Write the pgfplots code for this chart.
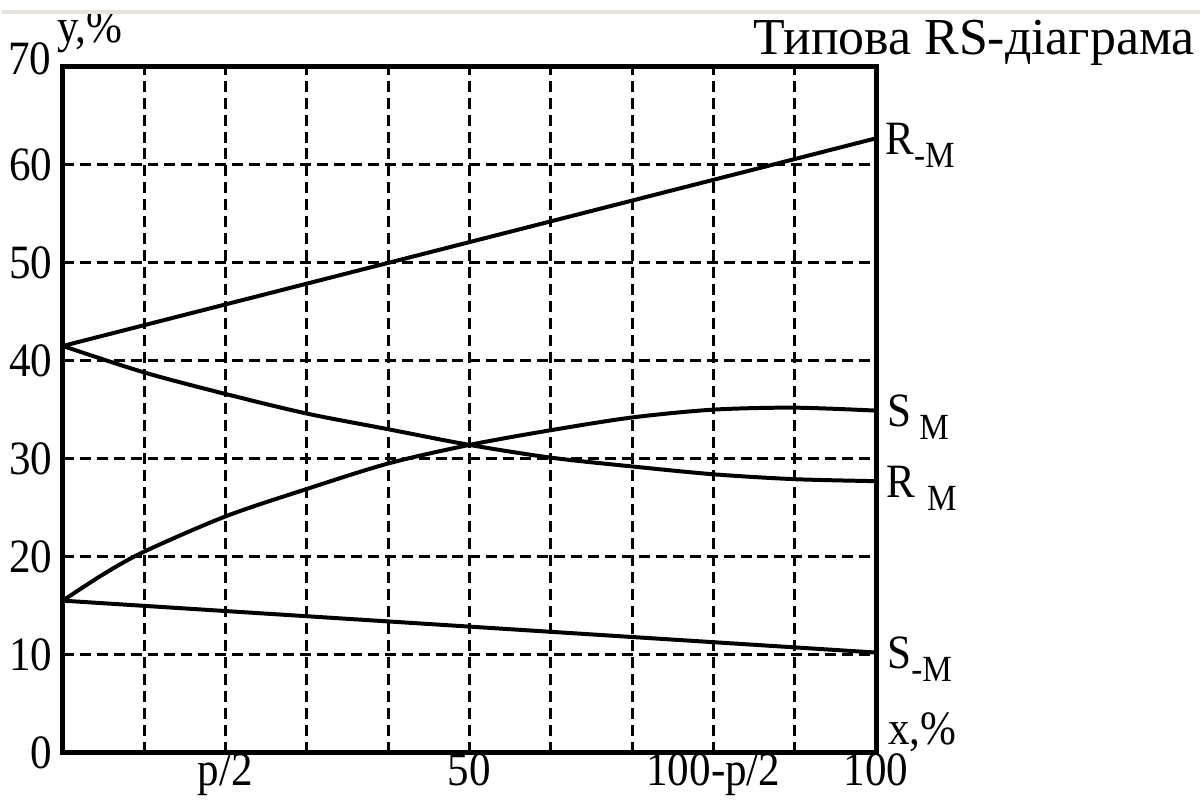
\documentclass[border=0pt]{standalone}
\usepackage{pgfplots}
\pgfplotsset{compat=1.18}
\usepackage{fontspec}
\setmainfont{Liberation Serif}
\newfontfamily\lblfamily[FakeStretch=0.9]{Liberation Serif}
\definecolor{topband}{RGB}{230,228,216}
\newcommand{\lblfont}{\lblfamily\fontsize{24}{28}\selectfont}
\newcommand{\subfont}{\lblfamily\fontsize{18.5}{22}\selectfont}
\newcommand{\lowsub}[1]{\raisebox{-6.5pt}{\subfont #1}}

\begin{document}
\begin{tikzpicture}
\begin{axis}[
  name=ax,
  scale only axis, width=408pt, height=344pt,
  xmin=0, xmax=100, ymin=0, ymax=70,
  xtick={0,10,...,100},
  xticklabels={,,p/2,,,50,,,100-p/2,,100},
  ytick={0,10,...,70},
  yticklabels={0,10,20,30,40,50,60,},
  major tick length=0pt,
  grid=major,
  major grid style={black, line width=1.5pt, dash pattern=on 5.5pt off 3pt},
  axis line style={line width=2.5pt, line cap=rect},
  clip=false,
  ticklabel style={font=\lblfont, inner sep=0pt},
  xticklabel style={anchor=base, yshift=-16.5pt},
  yticklabel style={anchor=east, xshift=-5pt},
]
% R_{-M}: straight rising line
\addplot[black, line width=2pt, no markers] coordinates {(0,41.5) (100,62.7)};
% S_{-M}: straight falling line
\addplot[black, line width=2pt, no markers] coordinates {(0,15.5) (100,10.2)};
% R_M: decreasing curve
\addplot[black, line width=2pt, no markers, smooth] coordinates {
  (0,41.5) (10,38.8) (20,36.6) (30,34.6) (40,33.0) (50,31.4)
  (60,30.1) (70,29.2) (80,28.4) (90,27.9) (100,27.7)};
% S_M: rising curve with a flat top
\addplot[black, line width=2pt, no markers, smooth] coordinates {
  (0,15.5) (5,18.2) (10,20.5) (20,24.1) (30,26.9) (40,29.5) (50,31.4)
  (60,32.9) (70,34.2) (80,35.0) (90,35.2) (100,34.9)};

% curve names at the right edge
\node[anchor=base west, font=\lblfont, inner sep=0pt, xshift=4.5pt, yshift=-8pt]
  at (axis cs:100,62.7) {R\lowsub{-M}};
\node[anchor=base west, font=\lblfont, inner sep=0pt, xshift=5.5pt, yshift=-8pt]
  at (axis cs:100,34.9) {S\lowsub{\hspace{4pt}M}};
\node[anchor=base west, font=\lblfont, inner sep=0pt, xshift=5pt, yshift=-8pt]
  at (axis cs:100,27.7) {R\lowsub{\hspace{6pt}M}};
\node[anchor=base west, font=\lblfont, inner sep=0pt, xshift=5.5pt, yshift=-8pt]
  at (axis cs:100,10.2) {S\lowsub{-M}};

% axis names and the top tick value
\node[anchor=base west, font=\lblfont, inner sep=0pt, xshift=6pt, yshift=4pt]
  at (rel axis cs:1,0) {x,\%};
\node[anchor=base west, font=\lblfont, inner sep=0pt, xshift=-3pt, yshift=12pt]
  at (rel axis cs:0,1) {y,\%};
\node[anchor=base east, font=\lblfont, inner sep=0pt, xshift=-5.5pt, yshift=-4pt]
  at (rel axis cs:0,1) {70};

% title
\node[anchor=base east, font=\fontsize{26}{30}\selectfont, inner sep=0pt,
      xshift=160pt, yshift=6pt]
  at (rel axis cs:1,1) {Типова RS-діаграма};
\end{axis}

\pgfresetboundingbox
\path ([shift={(-30.5pt,-24pt)}]ax.south west) rectangle ([shift={(162.5pt,33.5pt)}]ax.north east);
\draw[topband, line width=2pt]
  ([shift={(-30.5pt,27.5pt)}]ax.north west) -- ([shift={(162.5pt,27.5pt)}]ax.north east);
\end{tikzpicture}
\end{document}
